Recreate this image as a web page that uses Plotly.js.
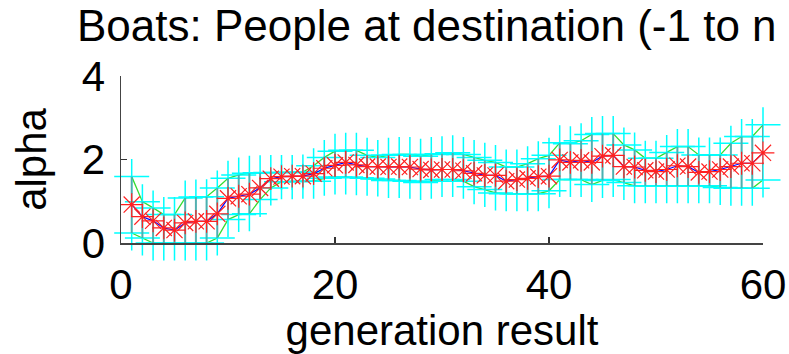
<!DOCTYPE html>
<html>
<head>
<meta charset="utf-8">
<script src="https://cdn.plot.ly/plotly-3.0.1.min.js"></script>
<style>html,body{margin:0;padding:0;background:#fff;}#chart{width:789px;height:354px;}</style>
</head>
<body>
<div id="chart"></div>
<script>
const generations = [];
for (let g = 1; g <= 60; g++) generations.push(g);

const meanAlpha = [0.92,0.63,0.53,0.36,0.31,0.48,0.52,0.52,0.70,1.07,
  1.12,1.17,1.32,1.54,1.59,1.60,1.60,1.66,1.79,1.86,
  1.93,1.87,1.83,1.83,1.82,1.83,1.82,1.77,1.75,1.76,
  1.76,1.73,1.67,1.62,1.62,1.48,1.52,1.55,1.59,1.60,
  1.99,1.93,1.98,1.93,2.08,2.10,1.83,1.82,1.74,1.71,
  1.76,1.85,1.83,1.69,1.71,1.76,1.83,1.91,1.91,2.16];

const upperAlpha = [1.59,0.99,0.84,0.68,0.68,1.08,1.10,1.11,1.32,1.55,
  1.63,1.67,1.68,1.69,1.69,1.69,1.70,1.85,2.05,2.20,
  2.22,2.22,2.10,2.05,2.10,2.12,2.12,2.08,2.12,2.14,
  2.16,2.12,2.05,1.98,1.93,1.82,1.82,1.90,2.02,2.10,
  2.40,2.38,2.45,2.60,2.62,2.62,2.35,2.23,2.03,2.03,
  2.17,2.31,2.31,2.11,2.11,2.11,2.39,2.55,2.55,2.83];

const lowerAlpha = [0.24,0.12,0.00,0.00,0.00,0.00,0.00,0.00,0.12,0.56,
  0.68,0.70,1.04,1.32,1.47,1.47,1.48,1.48,1.55,1.58,
  1.58,1.56,1.55,1.53,1.50,1.50,1.48,1.45,1.48,1.52,
  1.52,1.48,1.35,1.28,1.20,1.18,1.18,1.18,1.18,1.25,
  1.52,1.52,1.52,1.40,1.50,1.52,1.45,1.37,1.37,1.37,
  1.37,1.37,1.37,1.37,1.37,1.33,1.31,1.31,1.31,1.51];

const xTicks = [0, 20, 40, 60];
const yTicks = [0, 2, 4];

const errPlus = upperAlpha.map((u, i) => u - meanAlpha[i]);
const errMinus = lowerAlpha.map((l, i) => meanAlpha[i] - l);

const FONT = '"Liberation Sans", Arial, Helvetica, sans-serif';
const CYAN = '#00ffff';

const traces = [
  {x: generations, y: upperAlpha, mode: 'lines', line: {color: '#33dd33', width: 1.3}},
  {x: generations, y: lowerAlpha, mode: 'lines', line: {color: '#33dd33', width: 1.3}},
  {x: generations, y: upperAlpha, mode: 'markers', cliponaxis: false,
   marker: {symbol: 'cross-thin-open', size: 25, color: CYAN, line: {color: CYAN, width: 1.5}}},
  {x: generations, y: lowerAlpha, mode: 'markers', cliponaxis: false,
   marker: {symbol: 'cross-thin-open', size: 25, color: CYAN, line: {color: CYAN, width: 1.5}}},
  {x: generations, y: meanAlpha, mode: 'markers', marker: {size: 1, color: 'rgba(0,0,0,0)'},
   error_y: {type: 'data', symmetric: false, array: errPlus, arrayminus: errMinus,
             color: 'rgba(100,150,150,0.75)', thickness: 2, width: 0}, cliponaxis: false},
  {x: generations, y: meanAlpha, mode: 'lines', line: {color: '#0000ff', width: 1.2}},
  {x: generations, y: meanAlpha, mode: 'markers', cliponaxis: false,
   marker: {symbol: 'asterisk-open', size: 19, color: '#ff2020', line: {color: 'rgba(255,20,20,0.85)', width: 1.2}}}
];

const layout = {
  width: 789, height: 354,
  margin: {l: 121, r: 26, t: 76, b: 111},
  paper_bgcolor: '#ffffff', plot_bgcolor: '#ffffff',
  showlegend: false,
  font: {family: FONT, color: '#000', size: 42},
  title: {text: 'Boats: People at destination (-1 to n', x: 77/789, xanchor: 'left', xref: 'container',
          y: 1, yref: 'container', yanchor: 'top', pad: {t: 10},
          font: {family: FONT, size: 44, color: '#000'}},
  xaxis: {range: [0, 60], tickvals: xTicks, ticktext: xTicks.map(String),
          showgrid: false, zeroline: false, showline: true, linecolor: '#444', linewidth: 1.5,
          ticks: 'inside', ticklen: 6, tickcolor: '#333', tickwidth: 1.5,
          tickfont: {family: FONT, size: 42, color: '#000'}, ticklabelstandoff: 4,
          title: {text: 'generation result', font: {family: FONT, size: 42, color: '#000'}, standoff: 4},
          mirror: false},
  yaxis: {range: [0, 4], tickvals: yTicks, ticktext: yTicks.map(String),
          showgrid: false, zeroline: false, showline: true, linecolor: '#444', linewidth: 1.5,
          ticks: 'inside', ticklen: 6, tickcolor: '#333', tickwidth: 1.5,
          tickfont: {family: FONT, size: 42, color: '#000'}, ticklabelstandoff: 6,
          title: {text: 'alpha', font: {family: FONT, size: 42, color: '#000'}, standoff: 22},
          mirror: false}
};

Plotly.newPlot('chart', traces, layout, {staticPlot: true, displayModeBar: false});
</script>
</body>
</html>
